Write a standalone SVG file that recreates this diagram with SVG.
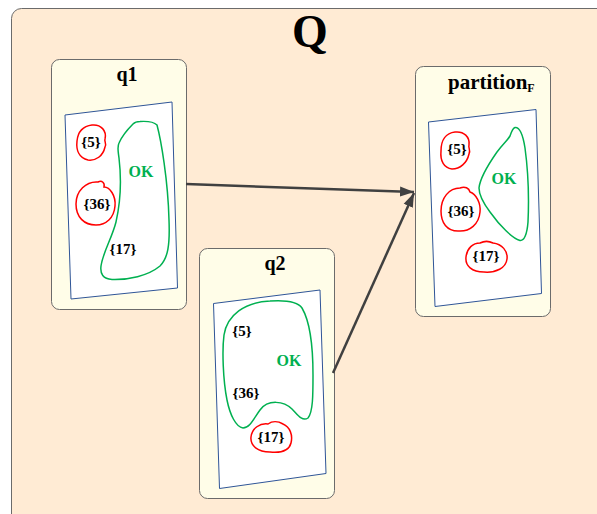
<svg xmlns="http://www.w3.org/2000/svg" width="597" height="514" viewBox="0 0 597 514">
<style>
.title{font-family:"Liberation Serif","Times New Roman",serif;font-weight:bold;fill:#000;text-anchor:middle}
.lbl{font-family:"Liberation Serif","Times New Roman",serif;font-weight:bold;font-size:15px;fill:#000;text-anchor:middle}
.ok{font-family:"Liberation Serif","Times New Roman",serif;font-weight:bold;font-size:16px;fill:#00B050;text-anchor:middle}
.box{fill:#FFFDE8;stroke:#6b6b6b;stroke-width:1}
.sheet{fill:#FFFFFF;stroke:#2F5597;stroke-width:1}
.red{fill:none;stroke:#FF0000;stroke-width:1.5}
.green{fill:none;stroke:#00B050;stroke-width:1.5}
.conn{stroke:#404040;stroke-width:2.5;fill:none}
</style>
<defs>
<marker id="arr" markerUnits="userSpaceOnUse" markerWidth="15" markerHeight="11" refX="14" refY="5.5" orient="auto">
<path d="M0,0.5 L14,5.5 L0,10.5 Z" fill="#404040"/>
</marker>
</defs>
<g id="Q">
<rect x="11.5" y="8.5" width="600" height="520" rx="10" fill="#FFEBD4" stroke="#6b6b6b" stroke-width="1"/>
<text class="title" x="310" y="47" font-size="46">Q</text>
</g>
<g id="q1">
<rect class="box" x="51.5" y="59.5" width="135" height="250" rx="8"/>
<text class="title" x="127" y="81" font-size="20">q1</text>
<polygon class="sheet" points="65,115 172,102 177.5,288 71,299"/>
<path class="red" d="M 92 125 C 101 124, 107 131, 105 139 C 104 142, 107 143, 105 147 C 103 156, 96 161, 88 160 C 79 158, 76 150, 77 141 C 78 131, 84 126, 92 125 Z"/>
<path class="red" d="M 98 182 C 102 180, 105 183, 104 187 C 110 187, 116 196, 115 206 C 114 218, 106 225, 96 225 C 84 225, 76 217, 76 204 C 76 191, 86 181, 98 182 Z"/>
<path class="green" d="M 140 121.5 C 148 121, 154 122, 157 125 C 161 140, 168 180, 169 220 C 170 245, 168 258, 160 266 C 148 276, 128 280, 112 279.5 C 103 279, 100 274, 101 266 C 103 252, 112 238, 116 222 C 121 200, 121 175, 119 158 C 118 150, 117 147, 119 143 C 122 136, 128 129, 133 124 C 135 122, 138 121.5, 140 121.5 Z"/>
<text class="lbl" x="91" y="147">{5}</text>
<text class="lbl" x="97" y="209">{36}</text>
<text class="lbl" x="123" y="254">{17}</text>
<text class="ok" x="141" y="177">OK</text>
</g>
<g id="q2">
<rect class="box" x="199.5" y="248.5" width="135" height="250" rx="8"/>
<text class="title" x="275" y="270" font-size="20">q2</text>
<polygon class="sheet" points="213.5,303.5 320,290 326,473.5 219.5,488.5"/>
<path class="green" d="M 270 301 C 285 300, 298 302, 302 308 C 309 320, 313 345, 313 375 C 313 395, 313 412, 308 418 C 302 422, 297 414, 292 409 C 284 401, 268 399, 260 410 C 254 418, 250 428, 243 428 C 236 427, 230 415, 227 400 C 223 380, 222 350, 224 335 C 227 315, 245 302, 270 301 Z"/>
<path class="red" d="M 268 424 C 272 421, 278 421, 283 424 C 290 427, 293 435, 291 443 C 289 451, 280 453, 270 452 C 258 452, 250 446, 251 437 C 252 428, 260 423, 268 424 Z"/>
<text class="lbl" x="242" y="336">{5}</text>
<text class="lbl" x="246" y="398">{36}</text>
<text class="lbl" x="271" y="442">{17}</text>
<text class="ok" x="289" y="366">OK</text>
</g>
<g id="partitionF">
<rect class="box" x="415.5" y="66.5" width="135" height="250" rx="8"/>
<text class="title" x="448" y="89" font-size="21" style="text-anchor:start">partition<tspan font-size="12" dy="3">F</tspan></text>
<polygon class="sheet" points="428.5,122 536,109.5 541.5,293.5 435,306.5"/>
<path class="red" d="M 455 132 C 464 131, 470 137, 469 145 C 468 148, 471 150, 469 154 C 467 163, 460 169, 452 169 C 444 168, 440 161, 441 151 C 441 140, 446 133, 455 132 Z"/>
<path class="red" d="M 460 188 C 465 186, 469 188, 470 192 C 476 194, 481 203, 480 212 C 479 224, 470 232, 458 231 C 447 231, 441 223, 441 211 C 441 198, 449 188, 460 188 Z"/>
<path class="red" d="M 480 243 C 484 241, 489 241, 493 243 C 502 244, 508 251, 507 259 C 506 268, 496 273, 484 272 C 472 272, 465 266, 466 257 C 467 248, 473 243, 480 243 Z"/>
<path class="green" d="M 515 127.5 C 520 127, 523 135, 525 148 C 528 170, 529 200, 528 222 C 527 235, 524 241, 520 240.5 C 512 238, 500 226, 490 212 C 484 204, 479 196, 479 188 C 480 178, 490 162, 497 152 C 503 144, 507 141, 510 136 C 512 130, 513 128, 515 127.5 Z"/>
<text class="lbl" x="457" y="154">{5}</text>
<text class="lbl" x="461" y="216">{36}</text>
<text class="lbl" x="486" y="261">{17}</text>
<text class="ok" x="504" y="184">OK</text>
</g>
<g id="connectors">
<line class="conn" x1="186" y1="184" x2="414" y2="192" marker-end="url(#arr)"/>
<line class="conn" x1="333" y1="373" x2="414" y2="193" marker-end="url(#arr)"/>
</g>
</svg>
